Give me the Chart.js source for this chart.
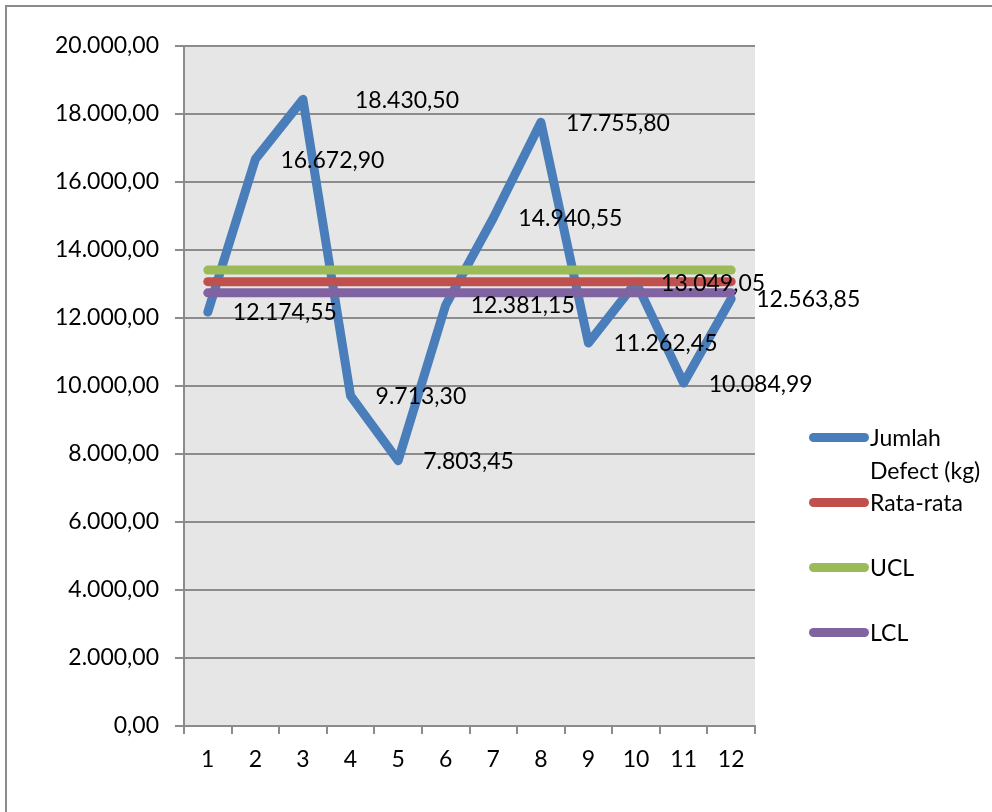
<!DOCTYPE html>
<html>
<head>
<meta charset="utf-8">
<script src="https://cdn.jsdelivr.net/npm/chart.js@4.4.1/dist/chart.umd.min.js"></script>
<style>
  html, body { margin: 0; padding: 0; background: #fff; overflow: hidden; }
  #wrap { position: relative; width: 992px; height: 812px; }
  #frame { position: absolute; left: 5px; top: 5px; width: 1100px; height: 900px; border: 2px solid #8c8c8c; box-sizing: border-box; }
  canvas { position: absolute; left: 0; top: 0; }
  .leg { position: absolute; font-family: Lato, "Open Sans", sans-serif; font-size: 23px; color: #000; line-height: 33px; }
  .sw { position: absolute; width: 60px; height: 9px; border-radius: 5px; }
</style>
</head>
<body>
<div id="wrap">
  <div id="frame"></div>
  <canvas id="controlChart" width="992" height="812"></canvas>
  <div id="legend"></div>
</div>
<script>
// data
const periods = ['1', '2', '3', '4', '5', '6', '7', '8', '9', '10', '11', '12'];
const defectKg = [12174.55, 16672.90, 18430.50, 9713.30, 7803.45, 12381.15, 14940.55, 17755.80, 11262.45, 13049.05, 10084.99, 12563.85];
const average = [13069.38, 13069.38, 13069.38, 13069.38, 13069.38, 13069.38, 13069.38, 13069.38, 13069.38, 13069.38, 13069.38, 13069.38];
const ucl = [13410, 13410, 13410, 13410, 13410, 13410, 13410, 13410, 13410, 13410, 13410, 13410];
const lcl = [12740, 12740, 12740, 12740, 12740, 12740, 12740, 12740, 12740, 12740, 12740, 12740];
const yTicks = [0, 2000, 4000, 6000, 8000, 10000, 12000, 14000, 16000, 18000, 20000];

const seriesNames = ['Jumlah Defect (kg)', 'Rata-rata', 'UCL', 'LCL'];
const seriesColors = ['#4a7ebb', '#c0504d', '#9bbb59', '#8064a2'];

const FONT = 'Lato, "Open Sans", sans-serif';

// 12345.6 -> "12.345,60"
function fmt(v) {
  const parts = v.toFixed(2).split('.');
  const intPart = parts[0].replace(/\B(?=(\d{3})+(?!\d))/g, '.');
  return intPart + ',' + parts[1];
}

// gray plot background
const plotBg = {
  id: 'plotBg',
  beforeDraw(chart) {
    const { ctx, chartArea: a } = chart;
    ctx.save();
    ctx.fillStyle = '#e6e6e6';
    ctx.fillRect(a.left, a.top, a.right - a.left, a.bottom - a.top);
    ctx.restore();
  }
};

// value labels to the right of each point
const labelNudge = { 2: 27 };
const pointLabels = {
  id: 'pointLabels',
  afterDatasetsDraw(chart) {
    const ctx = chart.ctx;
    const meta = chart.getDatasetMeta(0);
    ctx.save();
    ctx.font = '23px ' + FONT;
    ctx.fillStyle = '#000';
    ctx.textAlign = 'left';
    ctx.textBaseline = 'middle';
    meta.data.forEach((pt, i) => {
      ctx.fillText(fmt(defectKg[i]), pt.x + 25 + (labelNudge[i] || 0), pt.y + 1);
    });
    ctx.restore();
  }
};

const lineStyle = {
  borderWidth: 9,
  pointRadius: 0,
  tension: 0,
  borderCapStyle: 'round',
  borderJoinStyle: 'round',
  fill: false
};

const controlChart = new Chart(
  document.getElementById('controlChart'),
  {
    type: 'line',
    data: {
      labels: periods,
      datasets: [
        { label: seriesNames[0], data: defectKg, borderColor: seriesColors[0], order: 4, ...lineStyle },
        { label: seriesNames[1], data: average, borderColor: seriesColors[1], order: 1, ...lineStyle },
        { label: seriesNames[2], data: ucl, borderColor: seriesColors[2], order: 1, ...lineStyle },
        { label: seriesNames[3], data: lcl, borderColor: seriesColors[3], order: 1, ...lineStyle }
      ]
    },
    options: {
      responsive: false,
      animation: false,
      events: [],
      layout: {
        padding: { top: 46, right: 237, left: 0, bottom: 0 }
      },
      plugins: {
        legend: { display: false },
        tooltip: { enabled: false }
      },
      scales: {
        x: {
          offset: true,
          grid: {
            offset: true,
            drawOnChartArea: false,
            drawTicks: true,
            tickLength: 8,
            color: '#8c8c8c',
            lineWidth: 2
          },
          border: { color: '#8c8c8c', width: 2 },
          ticks: {
            color: '#000',
            padding: 12,
            maxRotation: 0,
            font: { family: FONT, size: 23 }
          },
          afterFit(scale) { scale.height = 86; }
        },
        y: {
          min: 0,
          max: 20000,
          afterBuildTicks(scale) { scale.ticks = yTicks.map(v => ({ value: v })); },
          grid: {
            color: '#8c8c8c',
            lineWidth: 2,
            tickLength: 9
          },
          border: { color: '#8c8c8c', width: 2 },
          ticks: {
            color: '#000',
            padding: 16,
            font: { family: FONT, size: 23 },
            callback: v => fmt(v)
          },
          afterFit(scale) { scale.width = 184; }
        }
      }
    },
    plugins: [plotBg, pointLabels]
  }
);

// legend on the right, "Jumlah Defect (kg)" wraps as in the reference
const legendRows = [
  { y: 437, lines: ['Jumlah', 'Defect (kg)'] },
  { y: 502, lines: ['Rata-rata'] },
  { y: 567, lines: ['UCL'] },
  { y: 632, lines: ['LCL'] }
];
const legendEl = document.getElementById('legend');
legendRows.forEach((row, i) => {
  const sw = document.createElement('div');
  sw.className = 'sw';
  sw.style.left = '809px';
  sw.style.top = (row.y - 4.5) + 'px';
  sw.style.background = seriesColors[i];
  legendEl.appendChild(sw);
  const txt = document.createElement('div');
  txt.className = 'leg';
  txt.style.left = '870px';
  txt.style.top = (row.y - 16.5) + 'px';
  txt.innerHTML = row.lines.join('<br>');
  legendEl.appendChild(txt);
});
</script>
</body>
</html>
